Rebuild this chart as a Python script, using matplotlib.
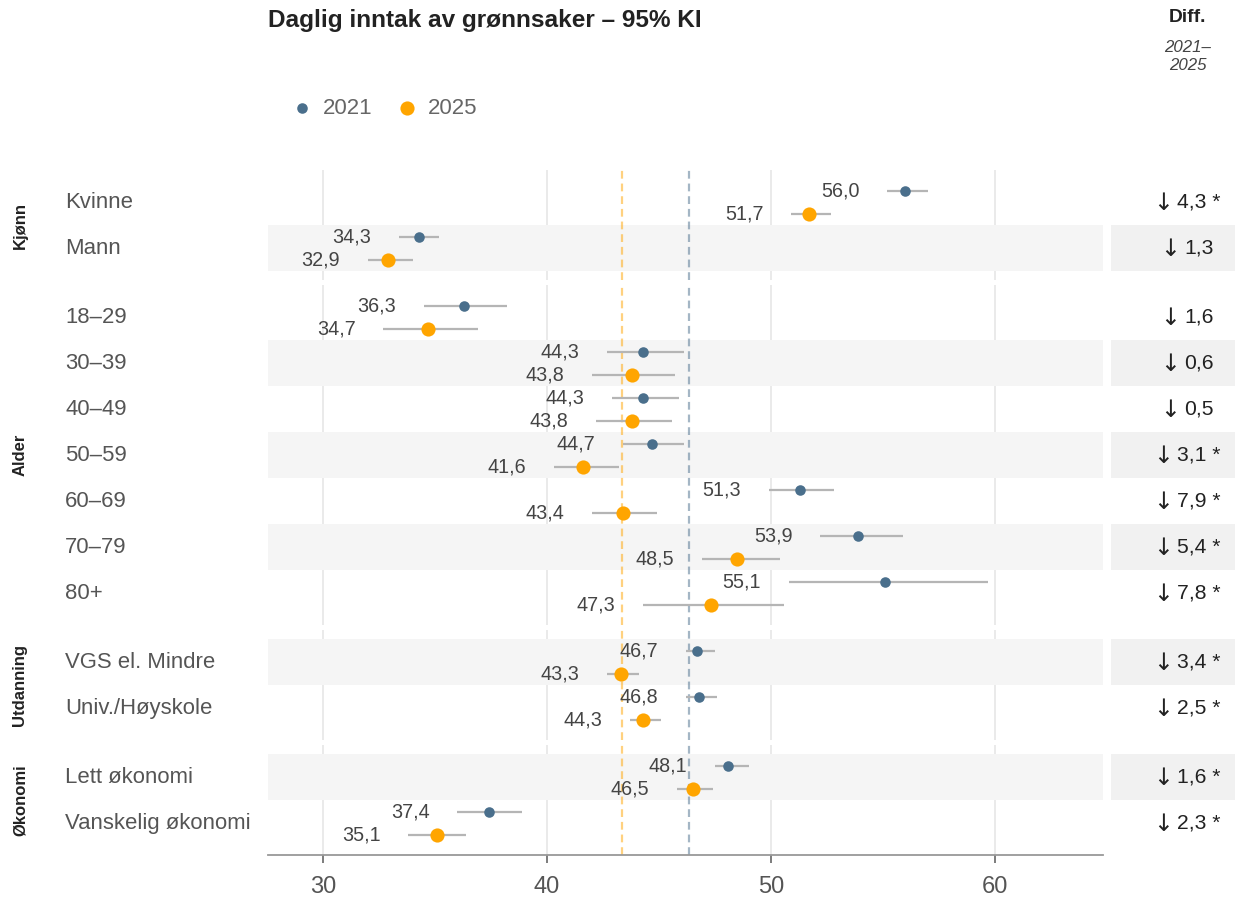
import matplotlib
matplotlib.use("Agg")
import matplotlib.pyplot as plt
from matplotlib.transforms import blended_transform_factory
from matplotlib.patches import Rectangle
from matplotlib.lines import Line2D

plt.rcParams['font.family'] = ['Liberation Sans', 'DejaVu Sans']

# ---------------- data ----------------
groups = ["Kjønn", "Alder", "Utdanning", "Økonomi"]
group_sizes = [2, 7, 2, 2]
categories = ["Kvinne", "Mann", "18–29", "30–39", "40–49", "50–59", "60–69",
              "70–79", "80+", "VGS el. Mindre", "Univ./Høyskole",
              "Lett økonomi", "Vanskelig økonomi"]
v2021 = [56.0, 34.3, 36.3, 44.3, 44.3, 44.7, 51.3, 53.9, 55.1, 46.7, 46.8, 48.1, 37.4]
lo2021 = [55.2, 33.4, 34.5, 42.7, 42.9, 43.4, 49.9, 52.2, 50.8, 46.2, 46.2, 47.5, 36.0]
hi2021 = [57.0, 35.2, 38.2, 46.1, 45.9, 46.1, 52.8, 55.9, 59.7, 47.5, 47.6, 49.0, 38.9]
v2025 = [51.7, 32.9, 34.7, 43.8, 43.8, 41.6, 43.4, 48.5, 47.3, 43.3, 44.3, 46.5, 35.1]
lo2025 = [50.9, 32.0, 32.7, 42.0, 42.2, 40.3, 42.0, 46.9, 44.3, 42.7, 43.7, 45.8, 33.8]
hi2025 = [52.7, 34.0, 36.9, 45.7, 45.6, 43.2, 44.9, 50.4, 50.6, 44.1, 45.1, 47.4, 36.4]
diff_vals = ["4,3", "1,3", "1,6", "0,6", "0,5", "3,1", "7,9", "5,4", "7,8", "3,4", "2,5", "1,6", "2,3"]
diff_sig = [True, False, False, False, False, True, True, True, True, True, True, True, True]
mean2021 = 46.35
mean2025 = 43.35
xticks = [30, 40, 50, 60]
years = ["2021", "2025"]

# ---------------- style ----------------
C21 = "#4a6f8c"
C25 = "#ffa500"
CI_C = "#b5b5b5"
STRIPE = "#f5f5f5"
W, H = 1237, 900
fig = plt.figure(figsize=(W / 100, H / 100), dpi=100)

x_left_px, x_right_px = 268, 1103
xmin = 30 - (323 - x_left_px) / 22.4
xmax = 30 + (x_right_px - 323) / 22.4
unit = 46.0
pad = 0.7
gap = 4.6
top_px = 170

def fx(px):
    return px / W

def fy(py):
    return 1 - py / H

axes = []
diff_items = []
start = 0
cur = top_px
for gi, (gname, n) in enumerate(zip(groups, group_sizes)):
    h_px = (n - 1 + 2 * pad) * unit
    ax = fig.add_axes([fx(x_left_px), fy(cur + h_px), (x_right_px - x_left_px) / W, h_px / H])
    axes.append(ax)
    ax.set_xlim(xmin, xmax)
    ax.set_ylim(n - 1 + pad, -pad)
    for s in ax.spines.values():
        s.set_visible(False)
    ax.set_yticks([])
    for xt in xticks:
        ax.axvline(xt, color="#e8e8e8", lw=1.3, zorder=0)
    ax.axvline(mean2025, color=C25, alpha=0.5, lw=1.6, ls=(0, (3.5, 2.2)), zorder=1)
    ax.axvline(mean2021, color=C21, alpha=0.5, lw=1.6, ls=(0, (3.5, 2.2)), zorder=1)
    tr_fig_x = blended_transform_factory(fig.transFigure, ax.transData)
    for r in range(n):
        i = start + r
        if i % 2 == 1:
            ax.axhspan(r - 0.5, r + 0.5, color=STRIPE, zorder=0.5, lw=0)
            ax.add_patch(Rectangle((fx(1111), r - 0.5), fx(1235) - fx(1111), 1.0,
                                   transform=tr_fig_x, color="#f1f1f1", lw=0,
                                   clip_on=False, zorder=0))
        y1, y2 = r - 0.25, r + 0.25
        ax.plot([lo2021[i], hi2021[i]], [y1, y1], color=CI_C, lw=1.6, zorder=2,
                solid_capstyle='butt')
        ax.plot([lo2025[i], hi2025[i]], [y2, y2], color=CI_C, lw=1.6, zorder=2,
                solid_capstyle='butt')
        ax.plot([v2021[i]], [y1], 'o', color=C21, ms=7.6, mew=0, zorder=3)
        ax.plot([v2025[i]], [y2], 'o', color=C25, ms=10.2, mew=0, zorder=3)
        ax.annotate(f"{v2021[i]:.1f}".replace(".", ","), (lo2021[i], y1),
                    xytext=(-20, 0), textcoords="offset points",
                    ha="right", va="center", fontsize=14.2, color="#444444")
        ax.annotate(f"{v2025[i]:.1f}".replace(".", ","), (lo2025[i], y2),
                    xytext=(-20, 0), textcoords="offset points",
                    ha="right", va="center", fontsize=14.2, color="#444444")
        ax.text(fx(65), r, categories[i], transform=tr_fig_x, ha="left", va="center",
                fontsize=15.9, color="#555555")
        # diff: tall arrow + number
        t_arrow = ax.text(fx(1160), r + 0.02, "↓", transform=tr_fig_x, ha="left", va="center",
                          fontsize=17, family="DejaVu Sans", color="#222222")
        rest = diff_vals[i] + (" *" if diff_sig[i] else "")
        t_rest = ax.text(fx(1175), r, rest, transform=tr_fig_x, ha="left", va="center",
                         fontsize=15.2, color="#222222")
        diff_items.append((t_arrow, t_rest, tr_fig_x, r))
    ax.text(fx(20), (n - 1) / 2, gname, transform=tr_fig_x, rotation=90,
            ha="center", va="center", fontsize=12, fontweight="bold", color="#222222")
    ax.set_xticks([])
    start += n
    cur += h_px + gap

# center each diff group at x=1187 px
renderer = fig.canvas.get_renderer()
gap_px = 4
for t_arrow, t_rest, trf, r in diff_items:
    wa = t_arrow.get_window_extent(renderer).width
    wr = t_rest.get_window_extent(renderer).width
    total = wa + gap_px + wr
    x0 = 1187 - total / 2
    t_arrow.set_position((fx(x0), r + 0.02))
    t_rest.set_position((fx(x0 + wa + gap_px), r))

# bottom axis
axb = axes[-1]
axb.spines['bottom'].set_visible(True)
axb.spines['bottom'].set_color("#999999")
axb.spines['bottom'].set_linewidth(1.3)
axb.set_xticks(xticks)
axb.set_xticklabels([str(t) for t in xticks])
axb.tick_params(axis='x', length=6, width=1.2, color="#666666", labelsize=17,
                labelcolor="#555555", pad=9)

# title
fig.text(fx(268), fy(20), "Daglig inntak av grønnsaker – 95% KI", ha="left", va="center",
         fontsize=17.6, fontweight="bold", color="#222222")

# legend
for px, col, ms, lab, tx in [(302, C21, 7.6, years[0], 323), (407, C25, 10.2, years[1], 428)]:
    fig.add_artist(Line2D([fx(px)], [fy(108)], marker='o', color=col, ms=ms, mew=0,
                          transform=fig.transFigure, ls='none'))
    fig.text(fx(tx), fy(109), lab, ha="left", va="center", fontsize=16, color="#666666")

# diff header
fig.text(fx(1188), fy(18), "Diff.", ha="center", va="center", fontsize=13.8,
         fontweight="bold", color="#222222")
fig.text(fx(1188), fy(47), "2021–", ha="center", va="center", fontsize=12.2,
         style="italic", color="#444444")
fig.text(fx(1188), fy(65), "2025", ha="center", va="center", fontsize=12.2,
         style="italic", color="#444444")

fig.savefig("out.png", dpi=100)
